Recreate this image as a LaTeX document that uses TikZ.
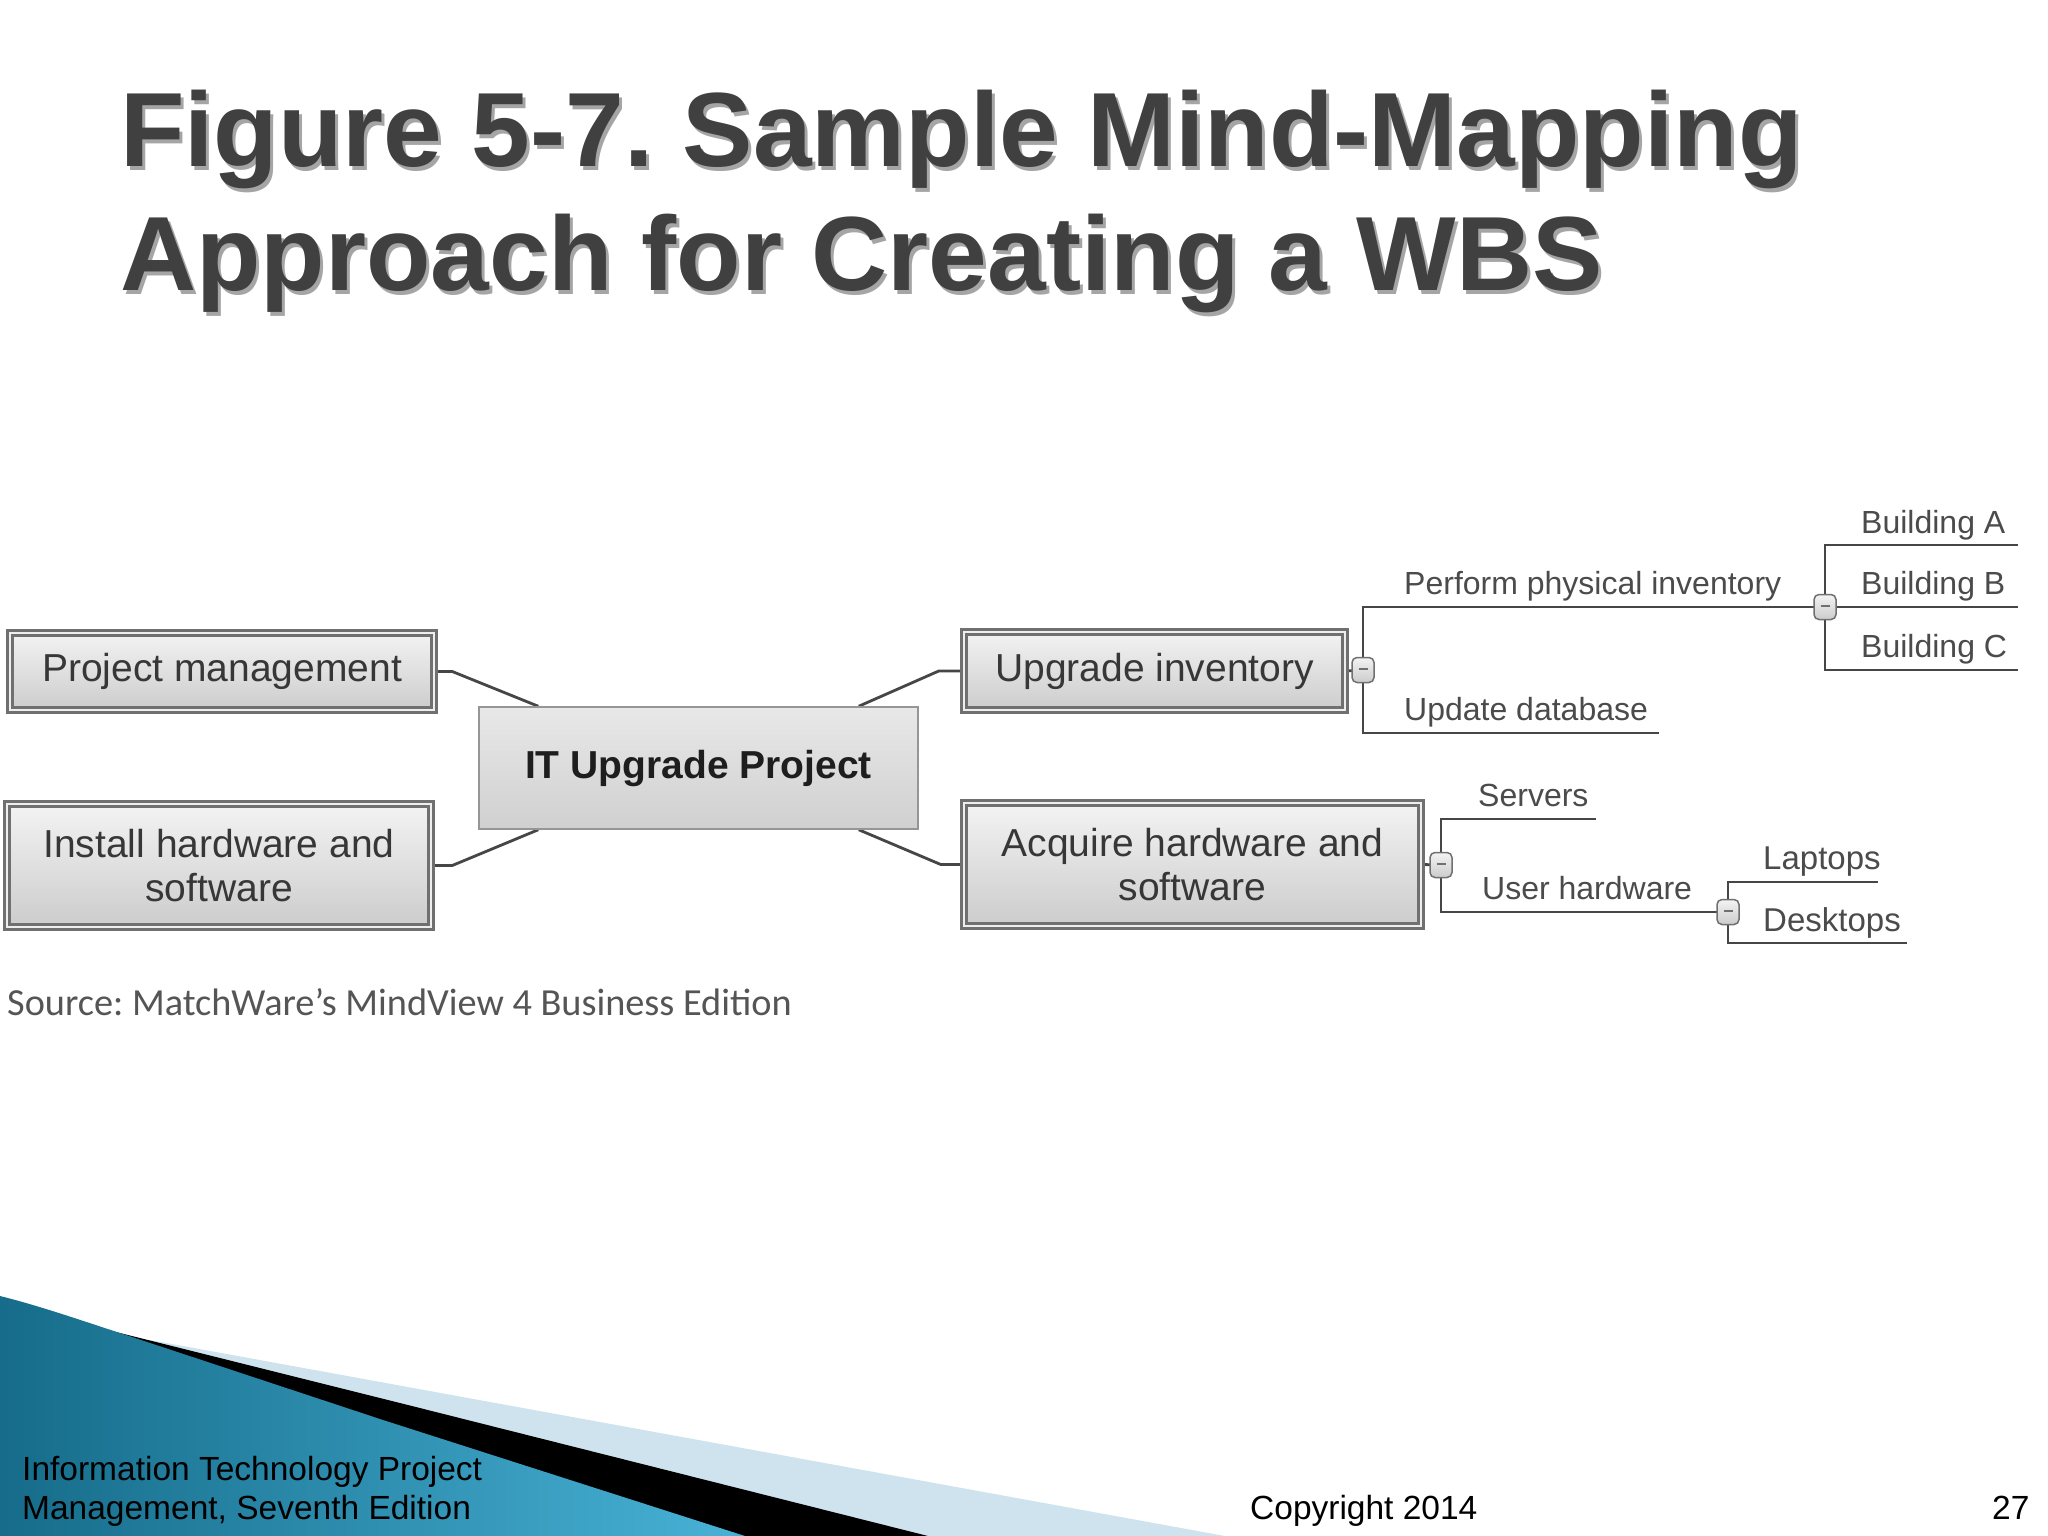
\documentclass[tikz,border=0pt]{standalone}
\usepackage{fontspec}
\setmainfont{Liberation Sans}
\newfontfamily\srcfont{Carlito}
\usetikzlibrary{shadings}
\pgfdeclarelayer{back}
\pgfdeclarelayer{bg}
\pgfsetlayers{back,bg,main}
\frenchspacing
\definecolor{titlegray}{RGB}{64,64,64}
\definecolor{titleshade}{RGB}{165,165,165}
\definecolor{boxline}{RGB}{112,112,112}
\definecolor{boxgap}{RGB}{238,238,238}
\definecolor{boxtop}{RGB}{243,243,243}
\definecolor{boxbot}{RGB}{204,204,204}
\definecolor{rootline}{RGB}{150,150,150}
\definecolor{txtgray}{RGB}{55,55,55}
\definecolor{lblgray}{RGB}{75,75,75}
\definecolor{linegray}{RGB}{70,70,70}
\definecolor{srcgray}{RGB}{85,85,85}
\definecolor{tealdark}{RGB}{22,108,138}
\definecolor{teallight}{RGB}{72,178,214}
\definecolor{paleblue}{RGB}{206,227,238}
\tikzset{
  titletext/.style={anchor=base west, inner sep=0pt, text=titlegray,
    font=\fontsize{105.5}{126}\selectfont\bfseries},
  titleshadow/.style={titletext, text=titleshade},
  mapbox/.style={draw=boxline, line width=2.5pt, double=boxgap, double distance=2.5pt,
    top color=boxtop, bottom color=boxbot, inner sep=0pt, align=center,
    text=txtgray, font=\fontsize{39}{44}\selectfont},
  rootbox/.style={draw=rootline, line width=1.5pt, top color={rgb,255:red,232;green,232;blue,232},
    bottom color={rgb,255:red,208;green,208;blue,208}, inner sep=0pt, align=center,
    text={rgb,255:red,30;green,30;blue,30}, font=\fontsize{39}{44}\selectfont\bfseries},
  lbl/.style={anchor=base west, inner sep=0pt, text=lblgray, font=\fontsize{32}{38}\selectfont},
  conn/.style={draw=linegray, line width=2.8pt},
  btn/.style={draw=boxline, line width=1.5pt, rounded corners=5pt,
    top color=boxtop, bottom color=boxbot, minimum width=22pt, minimum height=25pt,
    inner sep=0pt, text=boxline},
  foot/.style={anchor=base west, inner sep=0pt, text=black, font=\fontsize{33.5}{40}\selectfont}
}
\begin{document}
\begin{tikzpicture}[x=1pt,y=-1pt]
\begin{pgfonlayer}{back}
\fill[white] (0,0) rectangle (2048,1536);
\end{pgfonlayer}
\useasboundingbox (0,0) rectangle (2048,1536);

% footer graphics
\fill[paleblue] (150,1340) -- (1225,1536) -- (0,1536) -- cycle;
\fill[black] (112,1331) -- (400,1403) -- (928,1536) -- (0,1536) -- cycle;
\shade[left color=tealdark, right color=teallight]
  (0,1296) .. controls (40,1306) and (80,1320) .. (120,1333) -- (383,1420) -- (745,1536) -- (0,1536) -- cycle;

% title
\node[titleshadow] (t1s) at (123,171) {Figure 5-7. Sample Mind-Mapping};
\node[titleshadow] (t2s) at (123,294) {Approach for Creating a WBS};
\node[titletext] (t1) at (120,167) {Figure 5-7. Sample Mind-Mapping};
\node[titletext] (t2) at (120,290) {Approach for Creating a WBS};

% main boxes
\node[rootbox, minimum width=439pt, minimum height=122pt] (root) at (698.5,768) {IT Upgrade Project};
\node[mapbox, minimum width=424pt, minimum height=77pt] (pm) at (222,671.5) {Project management};
\node[mapbox, minimum width=424pt, minimum height=123pt] (inst) at (219,865.5) {Install hardware and\\software};
\node[mapbox, minimum width=381pt, minimum height=78pt] (upinv) at (1154.5,671) {Upgrade inventory};
\node[mapbox, minimum width=457pt, minimum height=123pt] (acq) at (1192.5,864.5) {Acquire hardware and\\software};

% collapse buttons
\node[btn] (b1) at (1363,670) {\rule[2pt]{9pt}{1.5pt}};
\node[btn] (b2) at (1825,607) {\rule[2pt]{9pt}{1.5pt}};
\node[btn] (b3) at (1441,865) {\rule[2pt]{9pt}{1.5pt}};
\node[btn] (b4) at (1728,912) {\rule[2pt]{9pt}{1.5pt}};

% line end points
\coordinate (udEnd) at (1659,733);
\coordinate (bAEnd) at (2018,545);
\coordinate (bBEnd) at (2018,607);
\coordinate (bCEnd) at (2018,670);
\coordinate (srvEnd) at (1596,819);
\coordinate (lapEnd) at (1878,882);
\coordinate (deskEnd) at (1907,943);

% labels
\node[lbl] (ppi) at (1404,594) {Perform physical inventory};
\node[lbl] (upd) at (1404,720) {Update database};
\node[lbl] (bA) at (1861,533) {Building A};
\node[lbl] (bB) at (1861,594) {Building B};
\node[lbl] (bC) at (1861,657) {Building C};
\node[lbl] (srv) at (1478,806) {Servers};
\node[lbl] (uh) at (1482,899) {User hardware};
\node[lbl, font=\fontsize{33}{38}\selectfont] (lap) at (1763,869) {Laptops};
\node[lbl, font=\fontsize{33}{38}\selectfont] (desk) at (1763,931) {Desktops};

% connectors
\begin{pgfonlayer}{bg}
\draw[conn] (pm.east) -- ++(17,0) -- ([xshift=60pt]root.north west);
\draw[conn] (inst.east) -- ++(20,0) -- ([xshift=60pt]root.south west);
\draw[conn] ([xshift=-60pt]root.north east) -- ([xshift=-24pt]upinv.west) -- (upinv.west);
\draw[conn] ([xshift=-60pt]root.south east) -- ([xshift=-22pt]acq.west) -- (acq.west);
\draw[conn] (upinv.east) -- (b1.center);
\draw[conn] (b1.center) |- (b2.center);
\draw[conn] (b1.center) |- (udEnd);
\draw[conn] (b2.center) |- (bAEnd);
\draw[conn] (b2.center) -- (bBEnd);
\draw[conn] (b2.center) |- (bCEnd);
\draw[conn] (acq.east) -- (b3.center);
\draw[conn] (b3.center) |- (srvEnd);
\draw[conn] (b3.center) |- (b4.center);
\draw[conn] (b4.center) |- (lapEnd);
\draw[conn] (b4.center) |- (deskEnd);
\end{pgfonlayer}

% source
\node[anchor=base west, inner sep=0pt, text=srcgray, font=\srcfont\fontsize{38.3}{44}\selectfont] (src) at (7,1015) {Source: MatchWare’s MindView 4 Business Edition};

% footer texts
\node[foot] (f1) at (22,1480) {Information Technology Project};
\node[foot] (f2) at (22,1519) {Management, Seventh Edition};
\node[foot] (copy) at (1250,1519) {Copyright 2014};
\node[foot] (pg) at (1992,1519) {27};
\end{tikzpicture}
\end{document}
